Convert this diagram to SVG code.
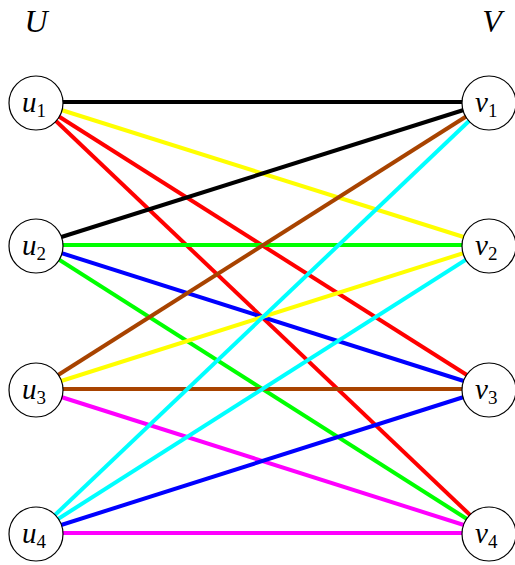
<svg xmlns="http://www.w3.org/2000/svg" width="515" height="565" viewBox="0 0 515 565">
<style>
.e{stroke-width:4;fill:none;stroke-linecap:butt}
.n circle{fill:#fff;stroke:#000;stroke-width:1.2}
.m{font-family:"Liberation Serif","DejaVu Serif",serif;font-style:italic;font-size:29px;fill:#000}
.s{font-family:"Liberation Serif","DejaVu Serif",serif;font-style:normal;font-size:19px}
.h{font-family:"Liberation Serif","DejaVu Serif",serif;font-style:italic;font-size:32px;fill:#000}
</style>
<rect width="515" height="565" fill="#fff"/>
<text class="h" x="36" y="32" text-anchor="middle">U</text>
<text class="h" x="492" y="32" text-anchor="middle">V</text>
<g id="edges">
<line class="e" x1="36" y1="102" x2="489" y2="102" stroke="#000"/>
<line class="e" x1="36" y1="102" x2="489" y2="245" stroke="#FFFF00"/>
<line class="e" x1="36" y1="102" x2="489" y2="389" stroke="#FF0000"/>
<line class="e" x1="36" y1="102" x2="489" y2="533" stroke="#FF0000"/>
<line class="e" x1="36" y1="245" x2="489" y2="102" stroke="#000"/>
<line class="e" x1="36" y1="245" x2="489" y2="245" stroke="#00FF00"/>
<line class="e" x1="36" y1="245" x2="489" y2="389" stroke="#0000FF"/>
<line class="e" x1="36" y1="245" x2="489" y2="533" stroke="#00FF00"/>
<line class="e" x1="36" y1="389" x2="489" y2="102" stroke="#A84300"/>
<line class="e" x1="36" y1="389" x2="489" y2="245" stroke="#FFFF00"/>
<line class="e" x1="36" y1="389" x2="489" y2="389" stroke="#A84300"/>
<line class="e" x1="36" y1="389" x2="489" y2="533" stroke="#FF00FF"/>
<line class="e" x1="36" y1="533" x2="489" y2="102" stroke="#00FFFF"/>
<line class="e" x1="36" y1="533" x2="489" y2="245" stroke="#00FFFF"/>
<line class="e" x1="36" y1="533" x2="489" y2="389" stroke="#0000FF"/>
<line class="e" x1="36" y1="533" x2="489" y2="533" stroke="#FF00FF"/>
</g>
<g id="u1" class="n"><circle cx="36" cy="103" r="27"/><text class="m" x="22" y="112">u<tspan class="s" dy="5">1</tspan></text></g>
<g id="u2" class="n"><circle cx="36" cy="246" r="27"/><text class="m" x="22" y="255">u<tspan class="s" dy="5">2</tspan></text></g>
<g id="u3" class="n"><circle cx="36" cy="390" r="27"/><text class="m" x="22" y="399">u<tspan class="s" dy="5">3</tspan></text></g>
<g id="u4" class="n"><circle cx="36" cy="534" r="27"/><text class="m" x="22" y="543">u<tspan class="s" dy="5">4</tspan></text></g>
<g id="v1" class="n"><circle cx="489" cy="103" r="27"/><text class="m" x="475" y="112">v<tspan class="s" dy="5">1</tspan></text></g>
<g id="v2" class="n"><circle cx="489" cy="246" r="27"/><text class="m" x="475" y="255">v<tspan class="s" dy="5">2</tspan></text></g>
<g id="v3" class="n"><circle cx="489" cy="390" r="27"/><text class="m" x="475" y="399">v<tspan class="s" dy="5">3</tspan></text></g>
<g id="v4" class="n"><circle cx="489" cy="534" r="27"/><text class="m" x="475" y="543">v<tspan class="s" dy="5">4</tspan></text></g>
</svg>
